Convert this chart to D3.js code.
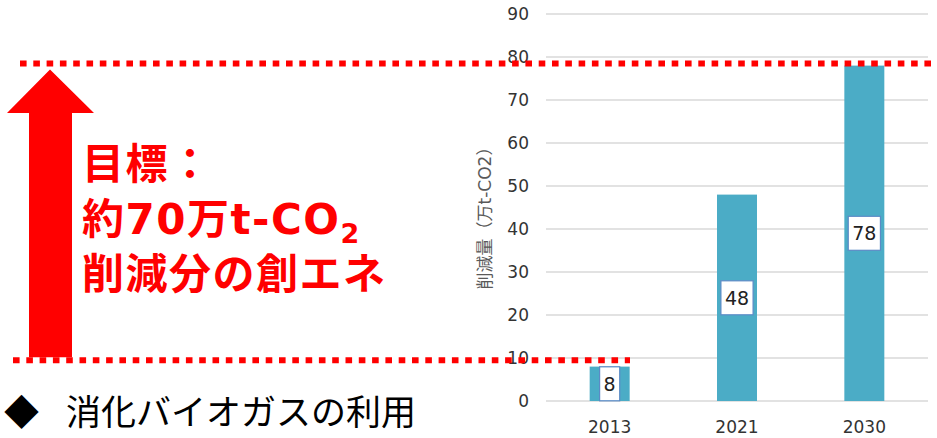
<!DOCTYPE html>
<html>
<head>
<meta charset="utf-8">
<script src="https://cdn.jsdelivr.net/npm/d3@7"></script>
<style>
  html, body { margin: 0; padding: 0; background: #fff; }
  svg { display: block; }
</style>
</head>
<body>
<div id="chart"></div>
<script>
// chart data
const years = ["2013", "2021", "2030"];
const reductions = [8, 48, 78];
const yTicks = [0, 10, 20, 30, 40, 50, 60, 70, 80, 90];

// annotation levels (dotted red guides)
const guideLevels = [78.5, 9.5];

const W = 937, H = 438;
const plot = { left: 546, right: 928, top: 14, bottom: 401 };

const svg = d3.select("#chart").append("svg")
    .attr("width", W)
    .attr("height", H);

const x = d3.scaleBand()
    .domain(years)
    .range([plot.left, plot.right])
    .paddingInner(0.686)
    .paddingOuter(0.343);

const y = d3.scaleLinear()
    .domain([0, 90])
    .range([plot.bottom, plot.top]);

// gridlines
svg.append("g")
    .selectAll("line")
    .data(yTicks)
    .enter()
    .append("line")
    .attr("x1", plot.left)
    .attr("x2", plot.right)
    .attr("y1", d => y(d))
    .attr("y2", d => y(d))
    .attr("stroke", "#d9d9d9")
    .attr("stroke-width", 1.3);

// y tick labels
svg.append("g")
    .selectAll("text")
    .data(yTicks)
    .enter()
    .append("text")
    .attr("x", 529)
    .attr("y", d => y(d))
    .attr("dy", "0.36em")
    .attr("text-anchor", "end")
    .style("font-family", '"DejaVu Sans", sans-serif')
    .style("font-size", "17px")
    .style("fill", "#333")
    .text(d => d);

// x labels
svg.append("g")
    .selectAll("text")
    .data(years)
    .enter()
    .append("text")
    .attr("x", d => x(d) + x.bandwidth() / 2)
    .attr("y", 433)
    .attr("text-anchor", "middle")
    .style("font-family", '"DejaVu Sans", sans-serif')
    .style("font-size", "17px")
    .style("fill", "#333")
    .text(d => d);

// y axis title
svg.append("text")
    .attr("transform", `translate(491, 214) rotate(-90)`)
    .attr("text-anchor", "middle")
    .style("font-family", '"DejaVu Sans", "Noto Sans CJK JP", sans-serif')
    .style("font-size", "17px")
    .style("fill", "#595959")
    .text("削減量（万t-CO2）");

// bars
svg.append("g")
    .selectAll("rect")
    .data(reductions)
    .enter()
    .append("rect")
    .attr("x", (d, i) => x(years[i]))
    .attr("y", d => y(d))
    .attr("width", x.bandwidth())
    .attr("height", d => y(0) - y(d))
    .attr("fill", "#4bacc6");

// value labels in boxes
const lab = svg.append("g")
    .selectAll("g")
    .data(reductions)
    .enter()
    .append("g")
    .attr("transform", (d, i) => `translate(${x(years[i]) + x.bandwidth() / 2},${(y(d) + y(0)) / 2})`);

lab.append("text")
    .attr("text-anchor", "middle")
    .attr("dy", "0.36em")
    .style("font-family", '"DejaVu Sans", sans-serif')
    .style("font-size", "19px")
    .style("fill", "#222")
    .text(d => d);

lab.insert("rect", "text")
    .each(function () {
        const t = d3.select(this.parentNode).select("text").node().getBBox();
        const h = 34;
        d3.select(this)
            .attr("x", t.x - 4)
            .attr("y", -h / 2)
            .attr("width", t.width + 8)
            .attr("height", h);
    })
    .attr("fill", "#fff")
    .attr("stroke", "#5b8ac6")
    .attr("stroke-width", 1.2);

// dotted red guides
svg.append("line")
    .attr("x1", 20).attr("x2", W)
    .attr("y1", y(guideLevels[0])).attr("y2", y(guideLevels[0]))
    .attr("stroke", "#ff0000")
    .attr("stroke-width", 6)
    .attr("stroke-dasharray", "6.6 6.7");

svg.append("line")
    .attr("x1", 13).attr("x2", 630)
    .attr("y1", y(guideLevels[1])).attr("y2", y(guideLevels[1]))
    .attr("stroke", "#ff0000")
    .attr("stroke-width", 6)
    .attr("stroke-dasharray", "6.6 6.7");

// big red arrow
const aTop = y(guideLevels[0]) + 6, aBot = y(guideLevels[1]) - 3;
svg.append("path")
    .attr("d", `M29,${aBot} L29,113 L7,113 L50,${aTop} L94,113 L72,113 L72,${aBot} Z`)
    .attr("fill", "#ff0000");

// target text
const tgt = svg.append("text")
    .style("font-family", '"DejaVu Sans", "Noto Sans CJK JP", sans-serif')
    .style("font-weight", "bold")
    .style("font-size", "42px")
    .style("letter-spacing", "1.5px")
    .style("fill", "#ff0000");

tgt.append("tspan").attr("x", 82).attr("y", 179).text("目標：");
tgt.append("tspan").attr("x", 82).attr("y", 234).text("約70万t-CO");
tgt.append("tspan").attr("dy", 9).style("font-size", "27px").text("2");
tgt.append("tspan").attr("x", 82).attr("y", 289).text("削減分の創エネ");

// bottom bullet
svg.append("text")
    .attr("x", 4)
    .attr("y", 425)
    .style("font-family", '"Noto Sans CJK JP", sans-serif')
    .style("font-size", "35px")
    .style("fill", "#000")
    .text("◆");

svg.append("text")
    .attr("x", 66)
    .attr("y", 425)
    .style("font-family", '"Noto Sans CJK JP", sans-serif')
    .style("font-size", "35px")
    .style("fill", "#000")
    .text("消化バイオガスの利用");
</script>
</body>
</html>
